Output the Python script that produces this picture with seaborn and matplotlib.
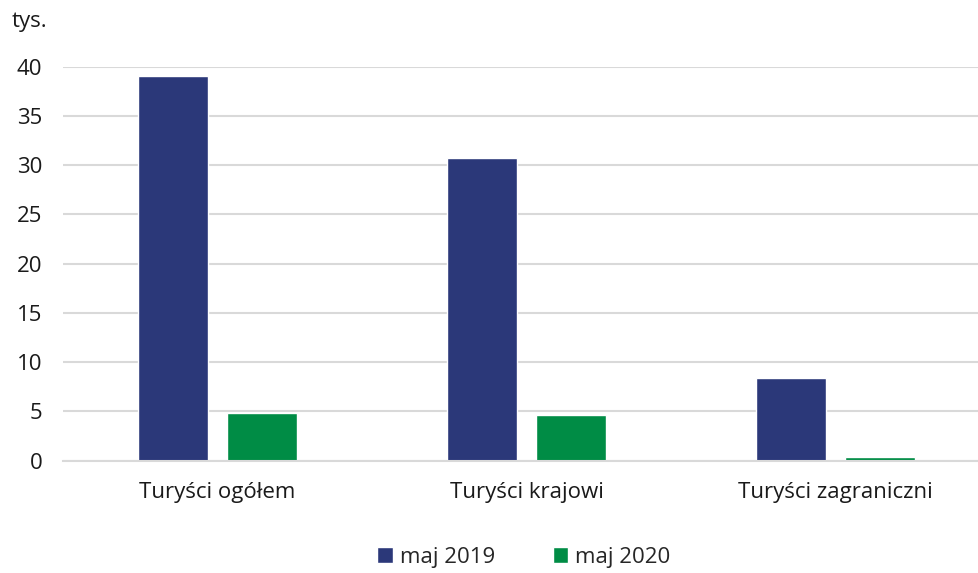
import pandas as pd
import matplotlib
matplotlib.use("Agg")
import matplotlib.pyplot as plt
import seaborn as sns

# data (thousands of tourists)
categories = ["Turyści ogółem", "Turyści krajowi", "Turyści zagraniczni"]
series_names = ["maj 2019", "maj 2020"]
values_2019 = [39.1, 30.7, 8.4]
values_2020 = [4.8, 4.6, 0.4]
colors = ["#2B3879", "#008C45"]

df = pd.DataFrame({
    "kategoria": categories * 2,
    "okres": [series_names[0]] * 3 + [series_names[1]] * 3,
    "wartosc": values_2019 + values_2020,
})

sns.set_theme(style="white")
plt.rcParams["font.family"] = ["Open Sans", "DejaVu Sans"]

fig = plt.figure(figsize=(9.79, 5.73), dpi=100)
# axes run a little past the right edge, as in the reference
ax = fig.add_axes([0.0644, 0.196, 0.947, 0.6876])

sns.barplot(data=df, x="kategoria", y="wartosc", hue="okres",
            palette=colors, width=0.576, gap=0.213, ax=ax,
            saturation=1, legend=True)

ax.set_xlim(-0.5, 2.5)
ax.set_ylim(0, 40)
ax.set_yticks(range(0, 41, 5))
ax.yaxis.grid(True, color="#d9d9d9", linewidth=1.5)
ax.set_axisbelow(True)
for s in ["top", "right", "left"]:
    ax.spines[s].set_visible(False)
ax.spines["bottom"].set_color("#d9d9d9")
ax.spines["bottom"].set_linewidth(1.5)
ax.tick_params(axis="y", labelsize=16, length=0, pad=15, colors="#1a1a1a")
ax.tick_params(axis="x", labelsize=16, length=0, pad=15, colors="#1a1a1a")
ax.set_xlabel("")
ax.set_ylabel("")

fig.text(0.012, 0.962, "tys.", fontsize=16, va="center", ha="left", color="#1a1a1a")

handles, labels = ax.get_legend_handles_labels()
ax.legend_.remove()
fig.legend(handles, labels, loc="center", bbox_to_anchor=(0.535, 0.027), ncol=2,
           frameon=False, fontsize=16, handlelength=0.7, handleheight=0.7,
           handletextpad=0.3, columnspacing=2.6)

fig.savefig("out.png", dpi=100)
